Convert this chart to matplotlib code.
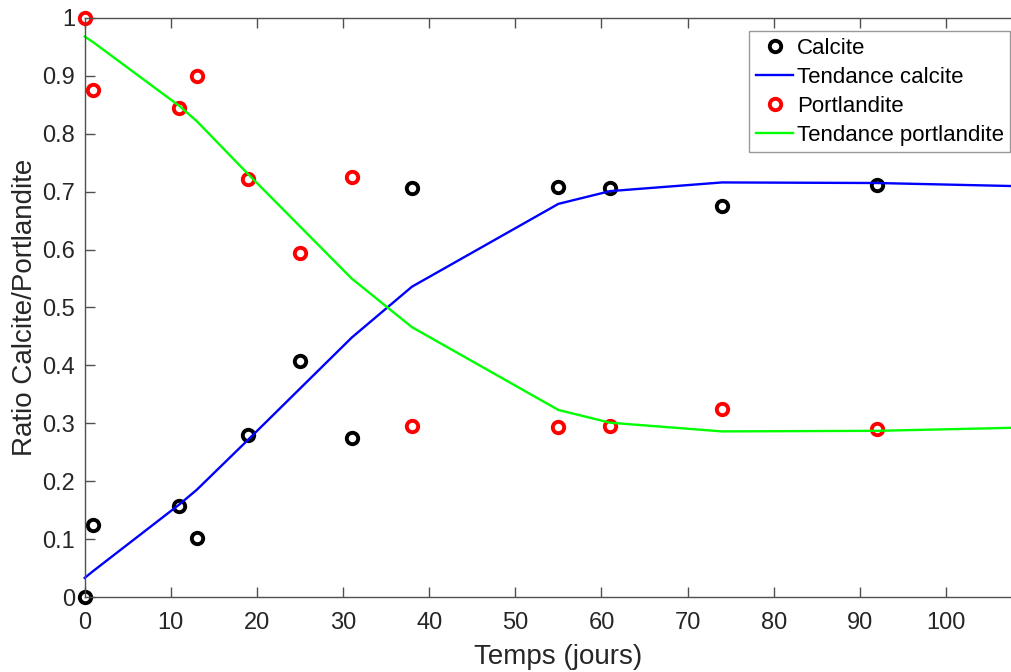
import matplotlib
matplotlib.use("Agg")
import matplotlib.pyplot as plt

plt.rcParams['font.family'] = ['Liberation Sans', 'DejaVu Sans']

days = [0, 1, 11, 13, 19, 25, 31, 38, 55, 61, 74, 92]
calcite = [0.0, 0.125, 0.157, 0.102, 0.279, 0.408, 0.275, 0.706, 0.708, 0.707, 0.676, 0.712]
portlandite = [1.0, 0.876, 0.844, 0.899, 0.722, 0.594, 0.726, 0.296, 0.294, 0.295, 0.325, 0.291]

trend_days = [0, 1, 11, 13, 19, 25, 31, 38, 55, 61, 74, 92, 110]
trend_calcite = [0.033, 0.045, 0.160, 0.185, 0.272, 0.360, 0.448, 0.536, 0.679, 0.701, 0.716, 0.715, 0.709]
trend_portlandite = [0.968, 0.958, 0.848, 0.822, 0.730, 0.640, 0.550, 0.466, 0.323, 0.301, 0.286, 0.287, 0.293]

xticks = [0, 10, 20, 30, 40, 50, 60, 70, 80, 90, 100]
yticks = [0, 0.1, 0.2, 0.3, 0.4, 0.5, 0.6, 0.7, 0.8, 0.9, 1.0]
ytick_labels = ['0', '0.1', '0.2', '0.3', '0.4', '0.5', '0.6', '0.7', '0.8', '0.9', '1']

W, H = 1012, 672
fig = plt.figure(figsize=(W / 100, H / 100), dpi=100)
left_px, right_px_110 = 84.7, 84.7 + 110 * 8.613
top_px, bottom_px = 18, 597
ax = fig.add_axes([left_px / W, 1 - bottom_px / H, (right_px_110 - left_px) / W, (bottom_px - top_px) / H])

mk = dict(linestyle='none', marker='o', markersize=8.2, markeredgewidth=2.8, markerfacecolor='white')
ax.plot(days, calcite, markeredgecolor='black', label='Calcite', **mk)
ax.plot(trend_days, trend_calcite, color='#0000ff', linewidth=1.7, label='Tendance calcite')
ax.plot(days, portlandite, markeredgecolor='#ff0000', label='Portlandite', **mk)
ax.plot(trend_days, trend_portlandite, color='#00ff00', linewidth=1.7, label='Tendance portlandite')

for ln in ax.lines:
    ln.set_clip_on(False)

ax.set_xlim(0, 110)
ax.set_ylim(0, 1)
ax.set_xticks(xticks)
ax.set_yticks(yticks)
ax.set_yticklabels(ytick_labels)

axc = '#262626'
for s in ax.spines.values():
    s.set_color('#505050')
    s.set_linewidth(1.0)
ax.tick_params(direction='in', length=7, width=1.0, colors='#505050', labelcolor=axc,
               labelsize=17, top=True, right=True)
ax.tick_params(axis='x', pad=11)
ax.tick_params(axis='y', pad=7)

ax.set_xlabel('Temps (jours)', fontsize=20, color=axc, labelpad=7)
ax.set_ylabel('Ratio Calcite/Portlandite', fontsize=20, color=axc, labelpad=3)

leg = ax.legend(loc='upper left', bbox_to_anchor=(749 / W, 1 - 31 / H), bbox_transform=fig.transFigure,
                fontsize=16, frameon=True, fancybox=False, borderpad=0.3, labelspacing=0.36,
                handlelength=1.7, handletextpad=0.15, borderaxespad=0)
leg.get_frame().set_edgecolor('#808080')
leg.get_frame().set_linewidth(1.0)
for t in leg.get_texts():
    t.set_color('black')

fig.savefig('out.png', dpi=100)
